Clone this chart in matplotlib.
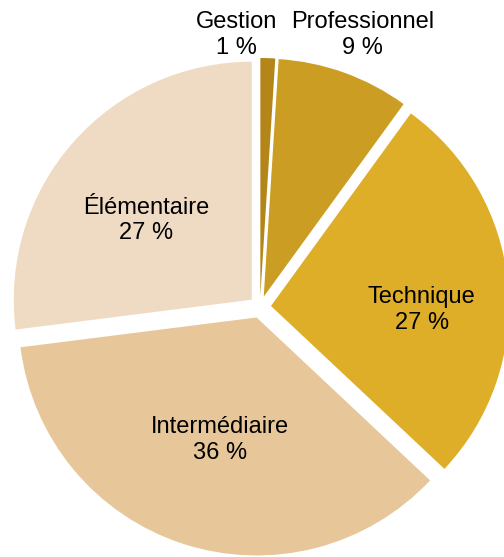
import numpy as np
import matplotlib.pyplot as plt

plt.rcParams['font.family'] = ['Liberation Sans', 'DejaVu Sans']

# data
categories = ["Gestion", "Professionnel", "Technique", "Intermédiaire", "Élémentaire"]
shares = [1, 9, 27, 36, 27]
colors = ['#B4861A', '#CB9D23', '#DFAE28', '#E7C799', '#EFDBC3']

# label placement (distance from centre in radii, angle offset in degrees)
label_r = [1.16, 1.232, 0.68, 0.571, 0.61]
label_dang = [6.6, -0.6, -5.4, 0.9, 3.2]

W, H = 504, 557
R = 238.0  # pie radius in px
cx, cy = 260.0, 307.0  # pie centre in px (from top-left)

fig = plt.figure(figsize=(W / 100, H / 100), dpi=100)
ax = fig.add_axes([0, 0, 1, 1])

wedges, _ = ax.pie(shares, colors=colors, startangle=90, counterclock=False,
                   explode=[11 / R] * len(shares), radius=1.0,
                   wedgeprops=dict(linewidth=0))

dy = -3 / R  # small nudge so the text sits like the original
for i, w in enumerate(wedges):
    mid = np.deg2rad((w.theta1 + w.theta2) / 2 + label_dang[i])
    ax.text(label_r[i] * np.cos(mid), label_r[i] * np.sin(mid) + dy,
            f"{categories[i]}\n{shares[i]} %", ha='center', va='center',
            fontsize=17, color='black', linespacing=1.2)

ax.set_aspect('auto')
ax.set_xlim(-cx / R, (W - cx) / R)
ax.set_ylim(-(H - cy) / R, cy / R)
ax.axis('off')

fig.savefig('out.png', dpi=100)
